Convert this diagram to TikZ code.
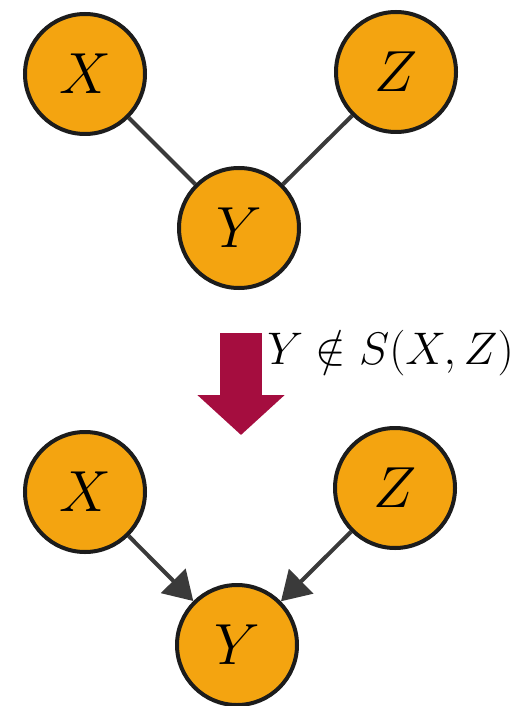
\documentclass[tikz,border=0pt]{standalone}
\usepackage{fix-cm}
\usepackage{amsmath,amssymb}
\usepackage{tikz}
\usetikzlibrary{
  arrows.meta,
  positioning
}
\definecolor{dagOrange}{HTML}{F4A410}
\definecolor{dagBorder}{HTML}{1C1C1C}
\definecolor{dagEdge}{HTML}{3A3A3A}
\definecolor{dagRed}{HTML}{A50D3F}
\tikzset{
  varNode/.style={
    circle,
    draw=dagBorder,
    fill=dagOrange,
    line width=0.08cm,
    minimum size=2.4cm,
    inner sep=0pt,
    font=\fontsize{33}{40}\selectfont
  },
  skelEdge/.style={dagEdge, line width=0.08cm},
  dirEdge/.style={dagEdge, line width=0.08cm,
    -{Triangle[length=0.57cm, width=0.68cm]}},
  orientArrow/.style={dagRed, line width=0.84cm,
    -{Triangle[length=0.8cm, width=1.7cm]}},
  ruleLabel/.style={font=\fontsize{26}{32}\selectfont, anchor=west, inner sep=0pt}
}
\begin{document}
\begin{tikzpicture}[x=1cm,y=1cm]
  \useasboundingbox (0,0) rectangle (10.58,-14.12);

  % skeleton
  \node[varNode] (x1) at (1.70,-1.48) {$X$};
  \node[varNode] (z1) at (7.92,-1.44) {$Z$};
  \node[varNode] (y1) at (4.78,-4.56) {$Y$};
  \draw[skelEdge] (x1) -- (y1);
  \draw[skelEdge] (z1) -- (y1);

  % orientation step
  \coordinate (stepTop) at (4.82,-6.66);
  \coordinate (stepTip) at (4.82,-8.70);
  \draw[orientArrow] (stepTop) -- (stepTip);
  \node[ruleLabel] (rule) at (5.34,-7.06) {$Y \notin S(X,Z)$};

  % v-structure
  \node[varNode] (x2) at (1.70,-9.84) {$X$};
  \node[varNode] (z2) at (7.90,-9.76) {$Z$};
  \node[varNode] (y2) at (4.74,-12.90) {$Y$};
  \draw[dirEdge] (x2) -- (y2);
  \draw[dirEdge] (z2) -- (y2);
\end{tikzpicture}
\end{document}
